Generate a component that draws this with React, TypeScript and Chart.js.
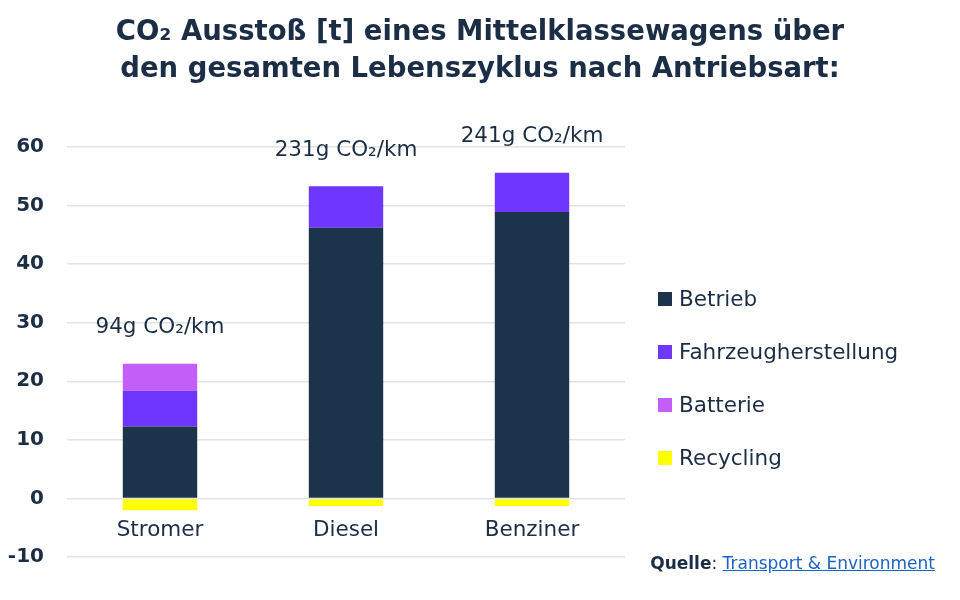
import React, { useEffect, useRef } from "react";
import { Chart, registerables } from "chart.js";

Chart.register(...registerables);

const categories = ["Stromer", "Diesel", "Benziner"];
const betrieb = [12.3, 46.2, 48.9];
const fahrzeugherstellung = [6.1, 7.1, 6.7];
const batterie = [4.6, 0, 0];
const recycling = [-2.0, -1.3, -1.3];
const emissionLabels = ["94g CO₂/km", "231g CO₂/km", "241g CO₂/km"];
const yTicks = [60, 50, 40, 30, 20, 10, 0, -10];

const seriesNames = ["Betrieb", "Fahrzeugherstellung", "Batterie", "Recycling"];
const seriesColors = ["#1b334b", "#6f36ff", "#c35ef8", "#ffff00"];

const NAVY = "#1b2e45";
const FONT = "'DejaVu Sans', sans-serif";

const labelPlugin = {
  id: "barLabels",
  afterDatasetsDraw(chart: any) {
    const { ctx, scales } = chart;
    const x = scales.x;
    const y = scales.y;
    ctx.save();
    ctx.fillStyle = NAVY;
    ctx.textAlign = "center";
    ctx.textBaseline = "middle";
    categories.forEach((cat, i) => {
      const cx = x.getPixelForValue(i);
      const total = betrieb[i] + fahrzeugherstellung[i] + batterie[i];
      ctx.font = `400 21.5px ${FONT}`;
      ctx.fillText(emissionLabels[i], cx, y.getPixelForValue(total) - 36);
      ctx.fillText(cat, cx, y.getPixelForValue(0) + 32);
    });
    ctx.restore();
  },
};

export default function App() {
  const canvasRef = useRef<HTMLCanvasElement | null>(null);

  useEffect(() => {
    document.body.style.margin = "0";
    const canvas = canvasRef.current;
    if (!canvas) return;
    const datasets = [betrieb, fahrzeugherstellung, batterie, recycling].map((d, i) => ({
      label: seriesNames[i],
      data: d,
      backgroundColor: seriesColors[i],
      borderWidth: 0,
      barPercentage: 0.4,
      categoryPercentage: 1,
    }));
    const chart = new Chart(canvas, {
      type: "bar",
      data: { labels: categories, datasets },
      plugins: [labelPlugin],
      options: {
        animation: false,
        responsive: false,
        maintainAspectRatio: false,
        layout: { padding: { top: 147, bottom: 43, right: 335, left: 0 } },
        plugins: {
          legend: { display: false },
          tooltip: { enabled: false },
          title: { display: false },
        },
        scales: {
          x: {
            stacked: true,
            display: false,
            grid: { display: false },
          },
          y: {
            stacked: true,
            min: -10,
            max: 60,
            afterFit: (scale: any) => {
              scale.width = 67;
            },
            afterBuildTicks: (scale: any) => {
              scale.ticks = yTicks.map((v) => ({ value: v }));
            },
            border: { display: false },
            grid: { color: "#e3e3e6", lineWidth: 1.5, drawTicks: false },
            ticks: {
              padding: 23,
              color: NAVY,
              font: { family: FONT, size: 20, weight: "bold" },
            },
          },
        },
      },
    });
    return () => chart.destroy();
  }, []);

  return (
    <div style={{ position: "relative", width: 960, height: 600, fontFamily: FONT, color: NAVY, background: "#fff" }}>
      <canvas ref={canvasRef} width={960} height={600} style={{ position: "absolute", left: 0, top: 0, width: 960, height: 600 }} />
      <div
        style={{
          position: "absolute",
          left: 0,
          top: 12,
          width: 960,
          textAlign: "center",
          fontWeight: 700,
          fontSize: 27.5,
          lineHeight: "37px",
        }}
      >
        <div>CO₂ Ausstoß [t] eines Mittelklassewagens über</div>
        <div>den gesamten Lebenszyklus nach Antriebsart:</div>
      </div>
      <div style={{ position: "absolute", left: 658, top: 272 }}>
        {seriesNames.map((n, i) => (
          <div key={n} style={{ display: "flex", alignItems: "center", height: 53 }}>
            <span style={{ width: 14, height: 14, background: seriesColors[i], display: "inline-block", marginRight: 7 }} />
            <span style={{ fontSize: 21.5 }}>{n}</span>
          </div>
        ))}
      </div>
      <div style={{ position: "absolute", right: 25, top: 553, fontSize: 17 }}>
        <span style={{ fontWeight: 700 }}>Quelle</span>:{" "}
        <span style={{ color: "#1a63c4", textDecoration: "underline" }}>Transport &amp; Environment</span>
      </div>
    </div>
  );
}
